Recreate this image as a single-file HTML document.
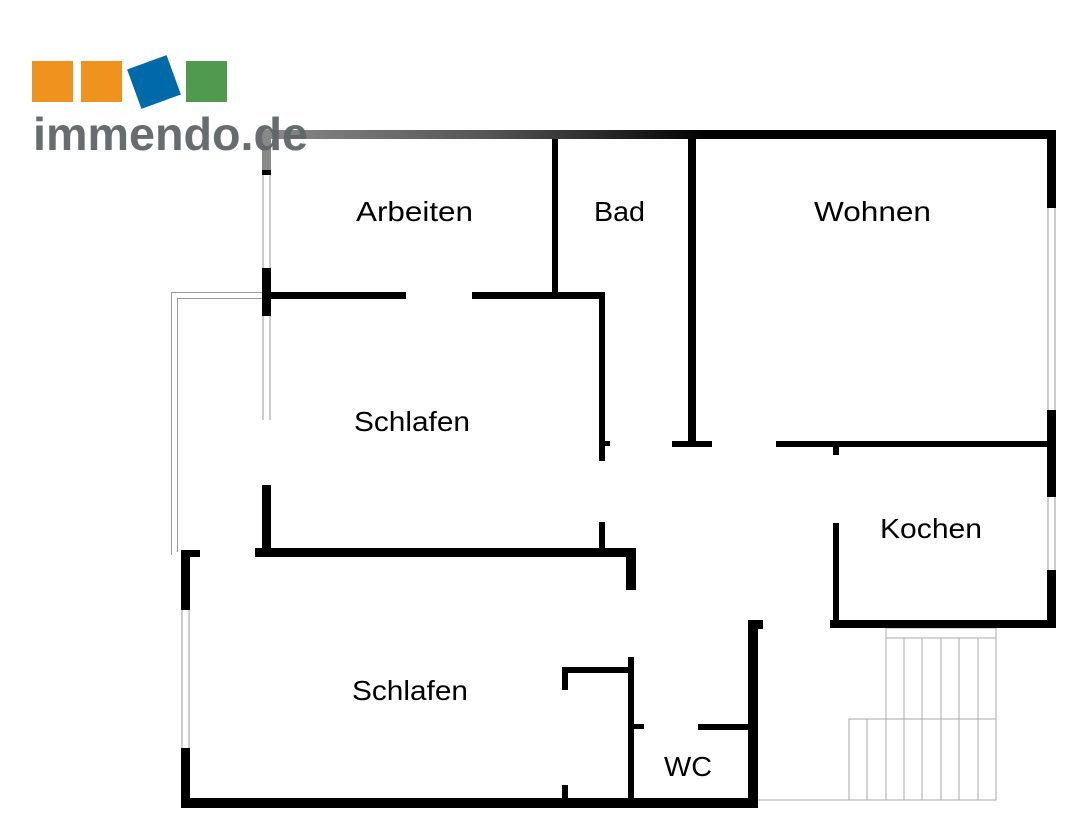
<!DOCTYPE html>
<html><head><meta charset="utf-8"><style>
html,body{margin:0;padding:0;background:#fff;}
svg{display:block;}
text{font-family:"Liberation Sans",sans-serif;}
</style></head><body>
<svg width="1080" height="825" viewBox="0 0 1080 825" xmlns="http://www.w3.org/2000/svg">
<defs>
<linearGradient id="g" x1="262" x2="710" y1="0" y2="0" gradientUnits="userSpaceOnUse">
<stop offset="0" stop-color="#8a8a8a"/><stop offset="0.5" stop-color="#555"/><stop offset="1" stop-color="#000"/>
</linearGradient>
</defs>
<g fill="none" stroke="#999" stroke-width="1">
<path d="M262 292.5 H171.5 V555"/>
<path d="M262 298.5 H177.5 V552"/>
</g>
<g stroke="#999" stroke-width="1">
<line x1="263" y1="175" x2="263" y2="268"/><line x1="270" y1="175" x2="270" y2="268"/>
<line x1="263" y1="316" x2="263" y2="420"/><line x1="270" y1="316" x2="270" y2="420"/>
<line x1="1048" y1="208" x2="1048" y2="410"/><line x1="1055" y1="208" x2="1055" y2="410"/>
<line x1="1048" y1="497" x2="1048" y2="570"/><line x1="1055" y1="497" x2="1055" y2="570"/>
<line x1="182" y1="610" x2="182" y2="748"/><line x1="189" y1="610" x2="189" y2="748"/>
</g>
<g fill="none" stroke="#aaa" stroke-width="1">
<rect x="886" y="628" width="110" height="172"/>
<line x1="886" y1="638" x2="996" y2="638"/>
<line x1="904" y1="638" x2="904" y2="800"/><line x1="922" y1="638" x2="922" y2="800"/>
<line x1="941" y1="638" x2="941" y2="800"/><line x1="959" y1="638" x2="959" y2="800"/>
<line x1="978" y1="638" x2="978" y2="800"/>
<path d="M849 800 V719 H996"/>
<line x1="867" y1="719" x2="867" y2="800"/>
<line x1="758" y1="800" x2="996" y2="800"/>
</g>
<rect x="262" y="130" width="794" height="9" fill="url(#g)"/>
<rect x="262" y="130" width="9" height="45" fill="#888"/>
<g fill="#000">
<rect x="262" y="170" width="9" height="5"/>
<rect x="262" y="268" width="9" height="48"/>
<rect x="262" y="485" width="9" height="68"/>
<rect x="271" y="292" width="135" height="7"/>
<rect x="472" y="292" width="133" height="7"/>
<rect x="552" y="139" width="6" height="156"/>
<rect x="599" y="292" width="6" height="169"/>
<rect x="605" y="441" width="5" height="5"/>
<rect x="599" y="522" width="6" height="30"/>
<rect x="688" y="139" width="8" height="307"/>
<rect x="672" y="441" width="40" height="6"/>
<rect x="776" y="441" width="280" height="6"/>
<rect x="833" y="447" width="6" height="8"/>
<rect x="1047" y="130" width="9" height="78"/>
<rect x="1047" y="410" width="9" height="87"/>
<rect x="1047" y="570" width="9" height="58"/>
<rect x="833" y="523" width="6" height="105"/>
<rect x="830" y="620" width="226" height="8"/>
<rect x="255" y="548" width="381" height="9"/>
<rect x="626" y="548" width="10" height="42"/>
<rect x="181" y="550" width="9" height="60"/>
<rect x="190" y="550" width="10" height="7"/>
<rect x="181" y="748" width="9" height="60"/>
<rect x="181" y="798" width="577" height="10"/>
<rect x="628" y="657" width="6" height="143"/>
<rect x="634" y="724" width="10" height="5"/>
<rect x="698" y="724" width="52" height="6"/>
<rect x="748" y="620" width="10" height="188"/>
<rect x="758" y="620" width="5" height="9"/>
<rect x="562" y="667" width="70" height="6"/>
<rect x="562" y="667" width="6" height="23"/>
<rect x="562" y="785" width="6" height="15"/>
</g>
<rect x="32" y="61" width="41" height="41" fill="#f0921e"/>
<rect x="81" y="61" width="41" height="41" fill="#f0921e"/>
<rect x="133" y="61" width="42" height="42" fill="#0069a8" transform="rotate(-20 154 82)"/>
<rect x="186" y="61" width="41" height="41" fill="#4f9a4f"/>
<text x="33" y="150" font-size="46" font-weight="bold" fill="#5f6466" fill-opacity="0.95" textLength="275" lengthAdjust="spacingAndGlyphs">immendo.de</text>
<g font-size="28" fill="#000">
<text x="356" y="221" textLength="117" lengthAdjust="spacingAndGlyphs">Arbeiten</text>
<text x="594" y="221" textLength="51" lengthAdjust="spacingAndGlyphs">Bad</text>
<text x="814" y="221" textLength="117" lengthAdjust="spacingAndGlyphs">Wohnen</text>
<text x="354" y="431" textLength="116" lengthAdjust="spacingAndGlyphs">Schlafen</text>
<text x="880" y="538" textLength="102" lengthAdjust="spacingAndGlyphs">Kochen</text>
<text x="352" y="700" textLength="116" lengthAdjust="spacingAndGlyphs">Schlafen</text>
<text x="664" y="776" textLength="48" lengthAdjust="spacingAndGlyphs">WC</text>
</g>
</svg>
</body></html>
